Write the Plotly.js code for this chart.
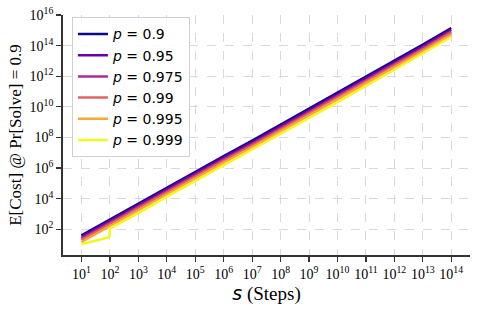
<!DOCTYPE html>
<html>
<head>
<meta charset="utf-8">
<script src="https://cdn.plot.ly/plotly-3.0.1.min.js"></script>
<style>html,body{margin:0;padding:0;background:#fff;}#chart{width:478px;height:312px;}</style>
</head>
<body>
<div id="chart"></div>
<script>
// Steps (x values)
const steps = [1e1,1e2,1e3,1e4,1e5,1e6,1e7,1e8,1e9,1e10,1e11,1e12,1e13,1e14];
const stepsYellow = [1e1,95,1e2,1e3,1e4,1e5,1e6,1e7,1e8,1e9,1e10,1e11,1e12,1e13,1e14];

// E[Cost] @ Pr[Solve]=0.9 for each p
const cost_p900 = [40.7,447,4470,5.25e4,5.5e5,6.17e6,6.17e7,6.76e8,7.24e9,7.76e10,8.91e11,1.0e13,1.15e14,1.41e15];
const cost_p950 = [31.6,347,3470,4.07e4,4.27e5,4.79e6,4.79e7,5.25e8,5.62e9,6.03e10,6.92e11,7.76e12,8.91e13,1.10e15];
const cost_p975 = [24.5,269,2690,3.16e4,3.31e5,3.72e6,3.72e7,4.07e8,4.37e9,4.68e10,5.37e11,6.03e12,6.92e13,8.51e14];
const cost_p990 = [19.5,214,2140,2.51e4,2.63e5,2.95e6,2.95e7,3.24e8,3.47e9,3.72e10,4.27e11,4.79e12,5.50e13,6.76e14];
const cost_p995 = [14.8,162,1620,1.91e4,2.0e5,2.24e6,2.24e7,2.45e8,2.63e9,2.82e10,3.24e11,3.63e12,4.17e13,5.13e14];
const cost_p999 = [10.5,30,115,1150,1.35e4,1.41e5,1.59e6,1.59e7,1.74e8,1.86e9,1.99e10,2.29e11,2.57e12,2.95e13,3.63e14];

const seriesNames = ["<i>p</i> = 0.9","<i>p</i> = 0.95","<i>p</i> = 0.975","<i>p</i> = 0.99","<i>p</i> = 0.995","<i>p</i> = 0.999"];
const seriesColors = ["#0d0887","#6a00a8","#b12a90","#e16462","#fca636","#f0f921"];

// Tick labels
const xTickVals = [1e1,1e2,1e3,1e4,1e5,1e6,1e7,1e8,1e9,1e10,1e11,1e12,1e13,1e14];
const xTickText = ["10<sup>1</sup>","10<sup>2</sup>","10<sup>3</sup>","10<sup>4</sup>","10<sup>5</sup>","10<sup>6</sup>","10<sup>7</sup>","10<sup>8</sup>","10<sup>9</sup>","10<sup>10</sup>","10<sup>11</sup>","10<sup>12</sup>","10<sup>13</sup>","10<sup>14</sup>"];
const yTickVals = [1e2,1e4,1e6,1e8,1e10,1e12,1e14,1e16];
const yTickText = ["10<sup>2</sup>","10<sup>4</sup>","10<sup>6</sup>","10<sup>8</sup>","10<sup>10</sup>","10<sup>12</sup>","10<sup>14</sup>","10<sup>16</sup>"];

const xs = [steps, steps, steps, steps, steps, stepsYellow];
const ys = [cost_p900, cost_p950, cost_p975, cost_p990, cost_p995, cost_p999];

const traces = ys.map((y, i) => ({
  x: xs[i], y: y, type: 'scatter', mode: 'lines',
  name: seriesNames[i],
  line: {color: seriesColors[i], width: 2.5},
  hoverinfo: 'skip'
}));

const serif = 'Liberation Serif, Times New Roman, serif';
const layout = {
  width: 478, height: 312,
  margin: {l: 63, r: 8, t: 15, b: 57, pad: 0},
  paper_bgcolor: '#fff', plot_bgcolor: '#fff',
  showlegend: true,
  legend: {
    x: 0.022, y: 0.99, xanchor: 'left', yanchor: 'top',
    bgcolor: 'rgba(255,255,255,0.85)', bordercolor: '#d0d0d0', borderwidth: 1,
    font: {family: 'DejaVu Sans', size: 14, color: '#000'},
    itemwidth: 30
  },
  xaxis: {
    type: 'log', range: [0.35, 14.66],
    tickmode: 'array', tickvals: xTickVals, ticktext: xTickText,
    tickfont: {family: serif, size: 14, color: '#000'},
    ticks: 'outside', ticklen: 5, tickwidth: 1.2, tickcolor: '#333',
    showline: true, linecolor: '#333', linewidth: 1.8,
    showgrid: true, gridcolor: '#d0d0d0', gridwidth: 0.8, griddash: 'dash',
    zeroline: false, mirror: false,
    title: {text: '<span style="font-family:DejaVu Sans"><i>s</i></span> (Steps)', font: {family: serif, size: 19, color: '#000'}, standoff: 4}
  },
  yaxis: {
    type: 'log', range: [0.32, 16.0],
    tickmode: 'array', tickvals: yTickVals, ticktext: yTickText,
    tickfont: {family: serif, size: 14, color: '#000'},
    ticks: 'outside', ticklen: 5, tickwidth: 1.2, tickcolor: '#333',
    showline: true, linecolor: '#333', linewidth: 1.8,
    showgrid: true, gridcolor: '#d0d0d0', gridwidth: 0.8, griddash: 'dash',
    zeroline: false, mirror: false,
    title: {text: 'E[Cost] @ Pr[Solve] = 0.9', font: {family: serif, size: 17, color: '#000'}, standoff: 4}
  }
};

Plotly.newPlot('chart', traces, layout, {staticPlot: true, displayModeBar: false});
</script>
</body>
</html>
